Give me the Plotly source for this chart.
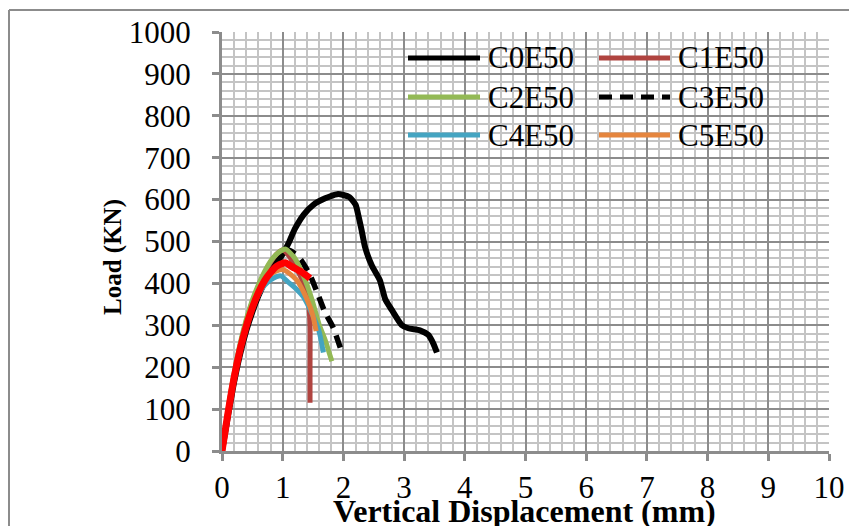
import plotly.graph_objects as go

# Load-displacement curves (displacement in mm, load in kN)
c0e50_x = [0, 0.1, 0.2, 0.3, 0.4, 0.5, 0.6, 0.7, 0.8, 0.9, 1.0, 1.1, 1.2, 1.35, 1.5, 1.7, 1.9, 2.0, 2.1, 2.2, 2.25, 2.3, 2.36, 2.47, 2.6, 2.69, 2.8, 2.96, 3.07, 3.26, 3.4, 3.48, 3.54]
c0e50_y = [0, 85, 165, 232, 287, 332, 370, 402, 428, 450, 470, 497, 530, 565, 587, 603, 613, 611, 606, 588, 560, 527, 485, 442, 408, 362, 336, 301, 293, 288, 277, 257, 235]

c1e50_x = [0, 0.1, 0.2, 0.3, 0.4, 0.5, 0.6, 0.7, 0.8, 0.9, 1.0, 1.1, 1.2, 1.3, 1.38, 1.43, 1.45, 1.45, 1.45]
c1e50_y = [0, 98, 183, 253, 310, 356, 393, 424, 450, 470, 480, 466, 442, 415, 385, 345, 300, 200, 115]

c2e50_x = [0, 0.1, 0.2, 0.3, 0.4, 0.5, 0.6, 0.7, 0.8, 0.9, 1.0, 1.05, 1.2, 1.37, 1.48, 1.6, 1.7, 1.78, 1.81]
c2e50_y = [0, 100, 186, 257, 314, 360, 397, 428, 453, 470, 480, 482, 460, 408, 362, 302, 265, 228, 214]

c3e50_x = [0, 0.1, 0.2, 0.3, 0.4, 0.5, 0.6, 0.7, 0.8, 0.9, 1.0, 1.1, 1.2, 1.3, 1.45, 1.55, 1.7, 1.83, 1.95]
c3e50_y = [0, 88, 170, 238, 293, 338, 375, 406, 432, 454, 470, 479, 471, 456, 420, 385, 330, 295, 246]

c4e50_x = [0, 0.1, 0.2, 0.3, 0.4, 0.5, 0.6, 0.7, 0.8, 0.9, 0.97, 1.1, 1.2, 1.34, 1.5, 1.6, 1.67]
c4e50_y = [0, 95, 178, 245, 298, 340, 372, 395, 408, 416, 418, 402, 390, 368, 322, 285, 235]

c5e50_x = [0, 0.1, 0.2, 0.3, 0.4, 0.5, 0.6, 0.7, 0.8, 0.9, 1.0, 1.1, 1.23, 1.4, 1.5, 1.55]
c5e50_y = [0, 96, 180, 248, 302, 347, 382, 407, 422, 430, 433, 425, 408, 362, 322, 286]

red_x = [0, 0.1, 0.2, 0.3, 0.4, 0.5, 0.6, 0.7, 0.8, 0.9, 1.0, 1.05, 1.15, 1.3, 1.45]
red_y = [0, 92, 175, 243, 298, 342, 378, 406, 426, 441, 448, 449, 440, 428, 412]

series_names = ["C0E50", "C1E50", "C2E50", "C3E50", "C4E50", "C5E50"]
x_ticks = list(range(0, 11))
y_ticks = list(range(0, 1001, 100))

FONT = "Liberation Serif"
colors = {
    "C0E50": "#000000",
    "C1E50": "#B04440",
    "C2E50": "#93B955",
    "C3E50": "#000000",
    "C4E50": "#44A4C1",
    "C5E50": "#E5853E",
}
widths = {"C0E50": 6, "C3E50": 5.5}
dashes = {"C3E50": "13px,8px"}

data = {
    "C0E50": (c0e50_x, c0e50_y),
    "C1E50": (c1e50_x, c1e50_y),
    "C2E50": (c2e50_x, c2e50_y),
    "C3E50": (c3e50_x, c3e50_y),
    "C4E50": (c4e50_x, c4e50_y),
    "C5E50": (c5e50_x, c5e50_y),
}

fig = go.Figure()
draw_order = ["C0E50", "C3E50", "C1E50", "C2E50", "C4E50", "C5E50"]
for name in draw_order:
    xs, ys = data[name]
    fig.add_trace(go.Scatter(
        x=xs, y=ys, mode="lines", name=name, showlegend=False,
        line=dict(color=colors[name], width=widths.get(name, 5),
                  dash=dashes.get(name, "solid"), shape="spline", smoothing=0.6),
    ))
fig.add_trace(go.Scatter(
    x=red_x, y=red_y, mode="lines", showlegend=False,
    line=dict(color="#FF0000", width=7, shape="spline", smoothing=0.6),
))

W, H = 849, 526
L, R, T, B = 222, 20, 32, 75
pw, ph = W - L - R, H - T - B


def px(xp):
    return (xp - L) / pw


def py(yp):
    return (H - B - yp) / ph


# Legend in two columns, three rows
shapes = []
annotations = []
row_y = [58, 97, 135]
col_line = [(408, 480), (599, 670)]
col_text = [486, 676]
for i, name in enumerate(series_names):
    r, c = divmod(i, 2)
    x0, x1 = col_line[c]
    shapes.append(dict(type="line", xref="paper", yref="paper",
                       x0=px(x0), x1=px(x1), y0=py(row_y[r]), y1=py(row_y[r]),
                       line=dict(color=colors[name], width=5,
                                 dash=dashes.get(name, "solid"))))
    annotations.append(dict(text=name, xref="paper", yref="paper",
                            x=px(col_text[c]), y=py(row_y[r]), xanchor="left",
                            yanchor="middle", showarrow=False,
                            font=dict(family=FONT, size=31, color="black")))

# Chart frame
frame = dict(color="#8C8C8C", width=2)
shapes.append(dict(type="line", xref="paper", yref="paper",
                   x0=px(9), x1=px(860), y0=py(10), y1=py(10), line=frame))
shapes.append(dict(type="line", xref="paper", yref="paper",
                   x0=px(9), x1=px(9), y0=py(10), y1=py(540), line=frame))

annotations.append(dict(text="<b>Vertical Displacement (mm)</b>", xref="paper",
                        yref="paper", x=px(524), y=py(511), xanchor="center",
                        yanchor="middle", showarrow=False,
                        font=dict(family=FONT, size=32, color="black")))
annotations.append(dict(text="<b>Load (KN)</b>", xref="paper", yref="paper",
                        x=px(113), y=py(257), xanchor="center", yanchor="middle",
                        textangle=-90, showarrow=False,
                        font=dict(family=FONT, size=25, color="black")))

axis_common = dict(
    showline=True, linecolor="#8C8C8C", linewidth=3,
    ticks="outside", ticklen=7, tickwidth=3, tickcolor="#8C8C8C",
    showgrid=True, gridcolor="#8C8C8C", gridwidth=2,
    zeroline=False, automargin=False,
    tickfont=dict(family=FONT, size=31, color="black"),
)

fig.update_layout(
    width=W, height=H,
    margin=dict(l=L, r=R, t=T, b=B, pad=0, autoexpand=False),
    paper_bgcolor="white", plot_bgcolor="white",
    showlegend=False,
    shapes=shapes, annotations=annotations,
    xaxis=dict(range=[0, 10], tickvals=x_ticks, ticklabelstandoff=0,
               minor=dict(dtick=0.2, showgrid=True, gridcolor="#C4C4C4", gridwidth=2),
               **axis_common),
    yaxis=dict(range=[0, 1000], tickvals=y_ticks, ticklabelstandoff=15,
               minor=dict(dtick=20, showgrid=True, gridcolor="#C4C4C4", gridwidth=2),
               **axis_common),
)

fig.write_html("out.html")
